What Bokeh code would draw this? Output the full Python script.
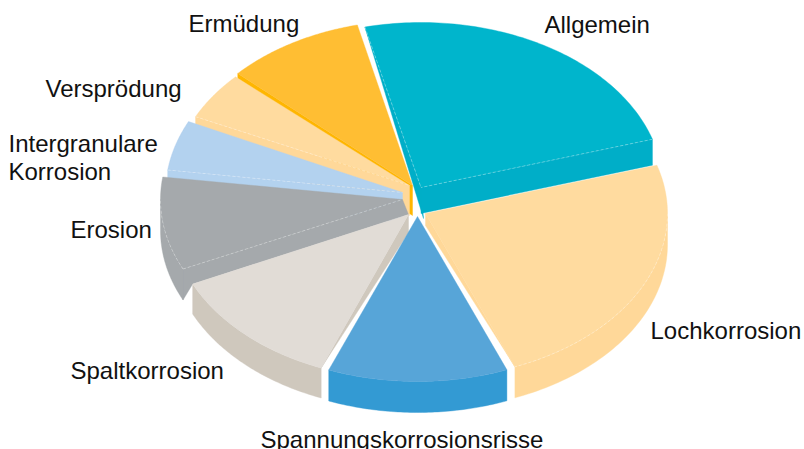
import numpy as np
from bokeh.embed import file_html
from bokeh.models import ColumnDataSource, Range1d
from bokeh.plotting import figure
from bokeh.resources import INLINE
from bokeh.core.properties import value

# data
categories = ["Allgemein", "Lochkorrosion", "Spannungskorrosionsrisse", "Spaltkorrosion",
              "Erosion", "Intergranulare\nKorrosion", "Versprödung", "Ermüdung"]
shares = [24, 23.7, 12, 12.1, 9.1, 4.9, 4.8, 9.4]

# styles
top_colors = ["#00B5CC", "#FFDB9F", "#57A5D8", "#E1DCD6", "#A5A9AC", "#B3D2EF", "#FFDB9F", "#FFBE33"]
wall_colors = ["#00AEC8", "#FFD899", "#339AD3", "#CFC8BD", "#A5A9AC", "#B3D2EF", "#FFD899", "#FFB600"]

# layout of the exploded pie, in page pixels
START = 103.4
RX = [242, 242, 242, 238, 242, 237, 237, 238]
RY = [165, 165, 165, 165, 165, 165, 160, 165]
APEX = [(420.5, 187), (425, 213), (417, 216), (408, 214), (402, 199), (402, 192), (409, 185), (412, 185)]
DEPTH = [26, 31, 31, 30, 31, 30, 30, 30]
TIP_DEPTH = {1: 12, 3: 18}
DRAW_ORDER = [0, 7, 6, 5, 4, 3, 2, 1]
LABEL_X = [544, 650, 260, 70, 70, 8, 45, 188]
LABEL_Y = [24, 330, 439, 370, 229, 143, 88, 23]
LINE_H = 28

edges = START - np.cumsum([0] + shares) * 360 / sum(shares)


def rim(i, t):
    ax, ay = APEX[i]
    rad = np.radians(t)
    return ax + RX[i] * np.cos(rad), ay - RY[i] * np.sin(rad)


xs, ys, cols = [], [], []
dx, dy = [], []


def add(pts, col):
    xs.append([float(a) for a, _ in pts])
    ys.append([float(b) for _, b in pts])
    cols.append(col)


def dash(pts):
    dx.append([float(a) for a, _ in pts])
    dy.append([float(b) for _, b in pts])


for i in DRAW_ORDER:
    t0, t1 = edges[i], edges[i + 1]  # clockwise from t0 down to t1
    ap = APEX[i]
    d = DEPTH[i]
    ap_low = (ap[0], ap[1] + d)
    wall = wall_colors[i]
    p0, p1 = rim(i, t0), rim(i, t1)

    # side walls
    if i == 0:
        add([p0, ap, (ap[0] + 2.5, ap[1] + 31)], wall)
        add([p1, ap, ap_low, (p1[0], p1[1] + d)], wall)
    elif i == 1:
        add([p1, ap, (ap[0], ap[1] + TIP_DEPTH[1])], wall)
    elif i == 3:
        add([p0, ap, (ap[0], ap[1] + TIP_DEPTH[3])], wall)
    elif i == 4:
        add([p0, (p0[0], p0[1] + d), rim(3, t0), APEX[3], ap], wall)
    elif i in (5, 6, 7):
        add([p0, (p0[0], p0[1] + d), ap_low, ap], wall)

    # front rim wall (the part of the arc facing the viewer)
    lo, hi = max(t1, -180.0), min(t0, 0.0)
    if lo < hi:
        ts = np.linspace(hi, lo, 60)
        arc = [rim(i, t) for t in ts]
        add(arc + [(a, b + d) for a, b in arc[::-1]], wall)

    # top face
    ts = np.linspace(t0, t1, 90)
    add([ap] + [rim(i, t) for t in ts], top_colors[i])

# thin light seams between top faces and walls
for i, t in [(0, edges[0]), (0, edges[1]), (4, edges[4]), (5, edges[5]), (6, edges[6])]:
    dash([rim(i, t), APEX[i]])
dash([rim(4, t) for t in np.linspace(edges[4], -180, 30)])
dash([rim(1, t) for t in np.linspace(0, edges[2], 50)])

p = figure(width=804, height=449, output_backend="svg", toolbar_location=None,
           x_range=Range1d(0, 804), y_range=Range1d(449, 0),
           min_border=0, outline_line_color=None, background_fill_color="white")
p.xaxis.visible = False
p.yaxis.visible = False
p.xgrid.visible = False
p.ygrid.visible = False

p.patches("xs", "ys", fill_color="cols", line_color="cols", line_width=0.4,
          source=ColumnDataSource(dict(xs=xs, ys=ys, cols=cols)))
p.multi_line(dx, dy, line_color="white", line_alpha=0.55, line_width=0.6, line_dash="3 2")

lx, ly, lt = [], [], []
for name, x, y in zip(categories, LABEL_X, LABEL_Y):
    for k, part in enumerate(name.split("\n")):
        lx.append(x)
        ly.append(y + k * LINE_H)
        lt.append(part)
p.text(lx, ly, text=lt, text_font=value("Liberation Sans"), text_font_size="24px",
       text_color="#111111", text_baseline="alphabetic", text_align="left")

open("out.html", "w").write(file_html(p, INLINE))
